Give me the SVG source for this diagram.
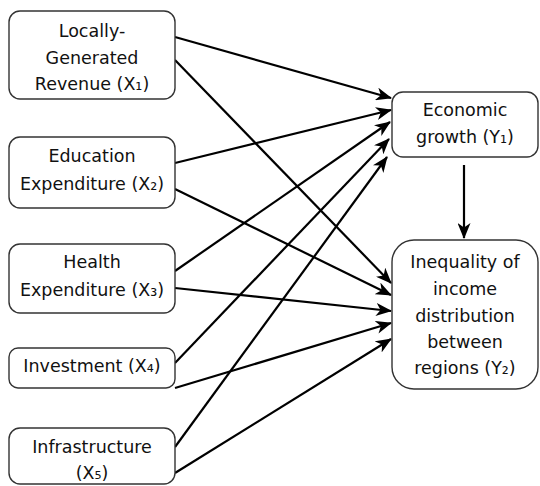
<svg xmlns="http://www.w3.org/2000/svg" width="540" height="486" viewBox="0 0 540 486">
<defs>
<marker id="ah" viewBox="0 0 16 13" refX="15" refY="6.5" markerWidth="16" markerHeight="13" markerUnits="userSpaceOnUse" orient="auto">
<path d="M0,0 L16,6.5 L0,13 L4.5,6.5 z" fill="#000"/>
</marker>
<style>
.box{fill:#fff;stroke:#333;stroke-width:1.4}
text{font-family:"DejaVu Sans",Verdana,sans-serif;font-size:17.5px;fill:#111;text-anchor:middle}
.c line{stroke:#000;stroke-width:2.2;marker-end:url(#ah)}
</style>
</defs>
<rect width="540" height="486" fill="#fff"/>
<g class="c" id="connectors">
<line x1="175" y1="37" x2="391" y2="98"/>
<line x1="175" y1="60" x2="391" y2="283"/>
<line x1="175" y1="163" x2="391" y2="110"/>
<line x1="175" y1="189" x2="391" y2="295"/>
<line x1="175" y1="271" x2="390" y2="122"/>
<line x1="175" y1="288" x2="391" y2="311"/>
<line x1="175" y1="363" x2="389" y2="139"/>
<line x1="175" y1="388" x2="391" y2="323"/>
<line x1="175" y1="447" x2="387" y2="157"/>
<line x1="175" y1="473" x2="391" y2="339"/>
<line x1="464" y1="165" x2="464" y2="238"/>
</g>
<g id="x1"><rect class="box" x="9" y="11" width="166" height="88" rx="11"/>
<text x="92" y="37">Locally-</text><text x="92" y="64">Generated</text><text x="92" y="90">Revenue (X₁)</text></g>
<g id="x2"><rect class="box" x="9" y="137" width="166" height="71" rx="11"/>
<text x="92" y="162">Education</text><text x="92" y="190">Expenditure (X₂)</text></g>
<g id="x3"><rect class="box" x="9" y="244" width="166" height="69" rx="11"/>
<text x="92" y="268">Health</text><text x="92" y="296">Expenditure (X₃)</text></g>
<g id="x4"><rect class="box" x="9" y="348" width="166" height="40" rx="9"/>
<text x="92" y="372">Investment (X₄)</text></g>
<g id="x5"><rect class="box" x="9" y="428" width="166" height="56" rx="11"/>
<text x="92" y="453">Infrastructure</text><text x="92" y="479">(X₅)</text></g>
<g id="y1"><rect class="box" x="392" y="92" width="146" height="65" rx="11"/>
<text x="465" y="116">Economic</text><text x="465" y="143">growth (Y₁)</text></g>
<g id="y2"><rect class="box" x="392" y="240" width="146" height="149" rx="22"/>
<text x="465" y="268">Inequality of</text><text x="465" y="295">income</text><text x="465" y="322">distribution</text><text x="465" y="348">between</text><text x="465" y="374">regions (Y₂)</text></g>
</svg>
